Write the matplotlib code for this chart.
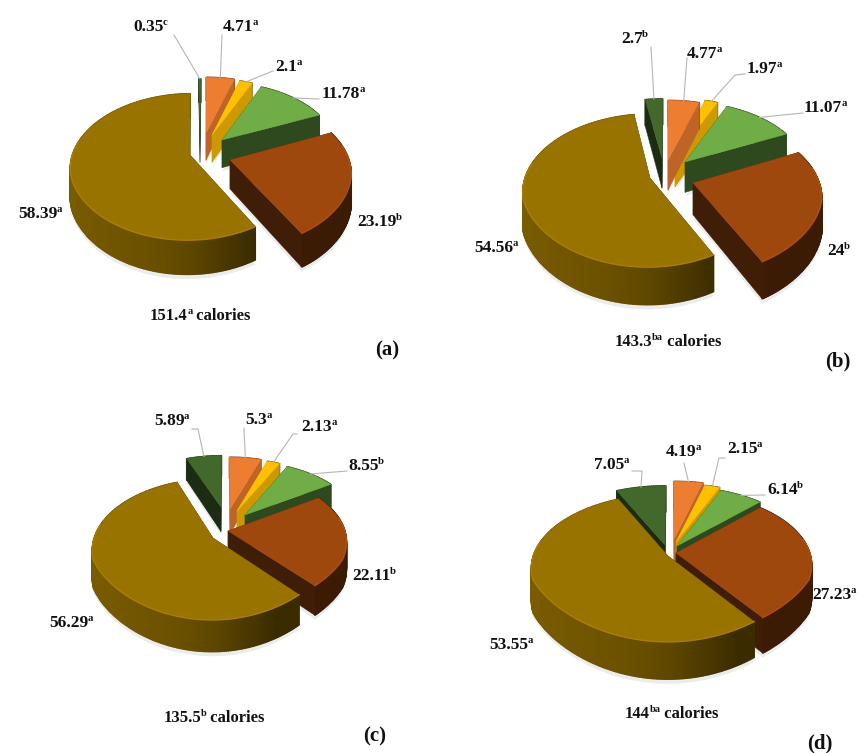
import numpy as np
import matplotlib
matplotlib.use("Agg")
import matplotlib.pyplot as plt
from matplotlib.colors import to_rgb

# slices run clockwise from 12 o'clock: orange, yellow, green, brown, olive, dark green
slice_colors = ["#ED7D31", "#FFC000", "#70AD47", "#9E480E", "#997300", "#43682B"]
side_factor = [0.8, 0.8, 0.42, 0.4, 0.38, 0.42]

values_a = [4.71, 2.1, 11.78, 23.19, 58.39, 0.35]
values_b = [4.77, 1.97, 11.07, 24, 54.56, 2.7]
values_c = [5.3, 2.13, 8.55, 22.11, 56.29, 5.89]
values_d = [4.19, 2.15, 6.14, 27.23, 53.55, 7.05]

letters_a = ["a", "a", "a", "b", "a", "c"]
letters_b = ["a", "a", "a", "b", "a", "b"]
letters_c = ["a", "a", "b", "b", "a", "a"]
letters_d = ["a", "a", "b", "a", "a", "a"]

calories = [151.4, 143.3, 135.5, 144]
calorie_letters = ["a", "ba", "b", "ba"]
panel_names = ["(a)", "(b)", "(c)", "(d)"]

# layout in pixels: projection, slice tips, labels, leader elbows
panels = [
    dict(cx=207, cy=175, rx=123, ry=78, p=0.17, depth=30, near=0.8,
         tips=[(206, 133), (212, 135), (222, 140), (230, 160), (190, 155), (200, 135)],
         labels=[(223, 26), (275, 66), (322, 93), (357, 221), (18, 213), (133, 26)],
         leaders=[[(222, 35)], [(273, 71)], [(319, 99)], None, None, [(174, 35)]],
         cal_pos=(150, 315), name_pos=(375, 349)),
    dict(cx=668, cy=200, rx=131, ry=82, p=0.17, depth=33, near=0.6,
         tips=[(668, 160), (675, 157), (685, 162), (693, 183), (650, 178), (662, 158)],
         labels=[(687, 53), (747, 68), (804, 107), (827, 250), (474, 247), (621, 38)],
         leaders=[[(687, 58)], [(745, 74), (735, 75)], [(803, 113)], None, None, [(651, 47)]],
         cal_pos=(615, 341), name_pos=(825, 360)),
    dict(cx=225, cy=560, rx=125, ry=76, p=0.17, depth=28, near=0.2,
         tips=[(230, 509), (237, 511), (245, 515), (228, 531), (213, 538), (221, 507)],
         labels=[(245, 419), (301, 426), (348, 465), (352, 575), (49, 622), (154, 420)],
         leaders=[[(244, 428)], [(297, 434), (293, 434)], [(347, 471)], None, None,
                  [(192, 429), (198, 429)]],
         cal_pos=(164, 717), name_pos=(363, 735)),
    dict(cx=672, cy=580, rx=142, ry=80, p=0.17, depth=33, near=0.0,
         tips=[(674, 539), (676, 542), (677, 546), (676, 553), (668, 556), (665, 545)],
         labels=[(666, 451), (727, 448), (767, 489), (812, 594), (489, 644), (594, 464)],
         leaders=[[(684, 463)], [(725, 458), (719, 458)], [(765, 495)], None, None,
                  [(632, 471), (642, 471)]],
         cal_pos=(625, 713), name_pos=(807, 742)),
]

font = dict(family="Liberation Serif", weight="bold", color="#111111")


def shade(color, f):
    return tuple(min(1, c * f) for c in to_rgb(color))


def width_scale(pn, w):
    # the near half grows less in width than in depth
    return np.where(w > 1, w ** pn["near"], w)


def ground_tip(pn, tip):
    # back out the ground position of a slice tip from its pixel position
    d = (pn["cy"] - tip[1]) / pn["ry"]
    v = d / (1 - pn["p"] * d)
    w = 1 / (1 + pn["p"] * v)
    u = (tip[0] - pn["cx"]) / (pn["rx"] * width_scale(pn, w))
    return u, v


def project(pn, u, v, drop=0.0):
    w = 1 / (1 + pn["p"] * v)
    x = pn["cx"] + pn["rx"] * u * width_scale(pn, w)
    y = pn["cy"] - pn["ry"] * v * w + drop * w
    return x, y


def rim_shade(sin_t):
    return np.interp(sin_t, [-1, -0.3, 0.0, 0.5], [0.8, 0.7, 0.62, 0.38])


def draw_face(ax, pn, u0, v0, a, color):
    u1, v1 = u0 + np.sin(a), v0 + np.cos(a)
    depth = pn["depth"]
    px, py = project(pn, np.array([u0, u1, u1, u0]), np.array([v0, v1, v1, v0]),
                     np.array([0, 0, depth, depth]))
    ax.fill(px, py, color=color, lw=0.3, zorder=ax.next_z)
    ax.next_z += 1


def draw_slice(ax, pn, tip, a0, a1, color, side_f):
    u0, v0 = ground_tip(pn, tip)
    depth = pn["depth"]
    th = np.linspace(a0, a1, max(int((a1 - a0) * 180 / np.pi), 2) + 1)
    us = u0 + np.sin(th)
    vs = v0 + np.cos(th)
    side = shade(color, side_f)

    # a cut face looks away from the viewer when its normal points to the far side
    front_faces = []
    for a, normal_v in ((a0, np.sin(a0)), (a1, -np.sin(a1))):
        if normal_v > 0:
            draw_face(ax, pn, u0, v0, a, side)
        else:
            front_faces.append(a)

    # outer wall, stepped so the shade changes along the arc
    for i in range(len(th) - 1):
        iu = np.array([us[i], us[i + 1], us[i + 1], us[i]])
        iv = np.array([vs[i], vs[i + 1], vs[i + 1], vs[i]])
        px, py = project(pn, iu, iv, np.array([0, 0, depth, depth]))
        f = rim_shade(np.sin((th[i] + th[i + 1]) / 2))
        ax.fill(px, py, color=shade(color, f), lw=1.0, zorder=ax.next_z)
    ax.next_z += 1

    for a in front_faces:
        draw_face(ax, pn, u0, v0, a, side)

    # top face
    tx, ty = project(pn, np.r_[u0, us], np.r_[v0, vs])
    ax.fill(tx, ty, color=color, lw=0.3, zorder=ax.next_z)
    ax.next_z += 1

    # lighter edge where the top meets the front wall
    front = np.cos(th) < 0.2
    if front.sum() > 1:
        ex, ey = project(pn, us[front], vs[front])
        ax.plot(ex, ey, color=shade(color, 1.1), lw=1.0, zorder=ax.next_z)
        ax.next_z += 1


def draw_shadow(ax, pn, tip, a0, a1):
    u0, v0 = ground_tip(pn, tip)
    th = np.linspace(a0, a1, 120)
    sx, sy = project(pn, np.r_[u0, u0 + np.sin(th)], np.r_[v0, v0 + np.cos(th)], pn["depth"] + 4)
    ax.fill(sx, sy, color="#ececec", lw=0, zorder=1)


def values_text(v):
    return "%g" % v


def rich_label(ax, x, y, parts, size=12.5, zorder=500):
    # parts are (text, superscript?) pairs laid out left to right
    renderer = ax.figure.canvas.get_renderer()
    for text, is_sup in parts:
        if is_sup:
            t = ax.text(x, y - 1, text, fontsize=size * 0.62, va="baseline", zorder=zorder, **font)
        else:
            t = ax.text(x, y + 5, text, fontsize=size, va="baseline", zorder=zorder, **font)
        x += t.get_window_extent(renderer).width - 0.5


def draw_panel(ax, pn, values, letters, cal, cal_letter, name):
    values = np.array(values, dtype=float)
    edges = np.r_[0, np.cumsum(values)] / values.sum() * 2 * np.pi
    mids = (edges[:-1] + edges[1:]) / 2

    for i in range(len(values)):
        draw_shadow(ax, pn, pn["tips"][i], edges[i], edges[i + 1])

    # far slices first
    order = sorted(range(len(values)),
                   key=lambda i: -(ground_tip(pn, pn["tips"][i])[1] + 0.5 * np.cos(mids[i])))
    for i in order:
        draw_slice(ax, pn, pn["tips"][i], edges[i], edges[i + 1], slice_colors[i], side_factor[i])

    for i, elbow in enumerate(pn["leaders"]):
        if elbow is None:
            continue
        u0, v0 = ground_tip(pn, pn["tips"][i])
        ex, ey = project(pn, u0 + np.sin(mids[i]), v0 + np.cos(mids[i]))
        xs = [p[0] for p in elbow] + [ex]
        ys = [p[1] for p in elbow] + [ey]
        ax.plot(xs, ys, color="#b5b5b5", lw=0.8, zorder=400)

    for i, (x, y) in enumerate(pn["labels"]):
        rich_label(ax, x, y, [(values_text(values[i]), False), (letters[i], True)])

    rich_label(ax, pn["cal_pos"][0], pn["cal_pos"][1],
               [(values_text(cal), False), (cal_letter, True), (" calories", False)], size=12)
    ax.text(pn["name_pos"][0], pn["name_pos"][1] + 6, name, fontsize=15, va="baseline", **font)


fig = plt.figure(figsize=(8.59, 7.53), dpi=100)
ax = fig.add_axes([0, 0, 1, 1])
ax.set_xlim(0, 859)
ax.set_ylim(753, 0)
ax.axis("off")
ax.next_z = 10

all_values = [values_a, values_b, values_c, values_d]
all_letters = [letters_a, letters_b, letters_c, letters_d]
for k in range(4):
    draw_panel(ax, panels[k], all_values[k], all_letters[k], calories[k], calorie_letters[k], panel_names[k])

fig.savefig("out.png", dpi=100, facecolor="white")
